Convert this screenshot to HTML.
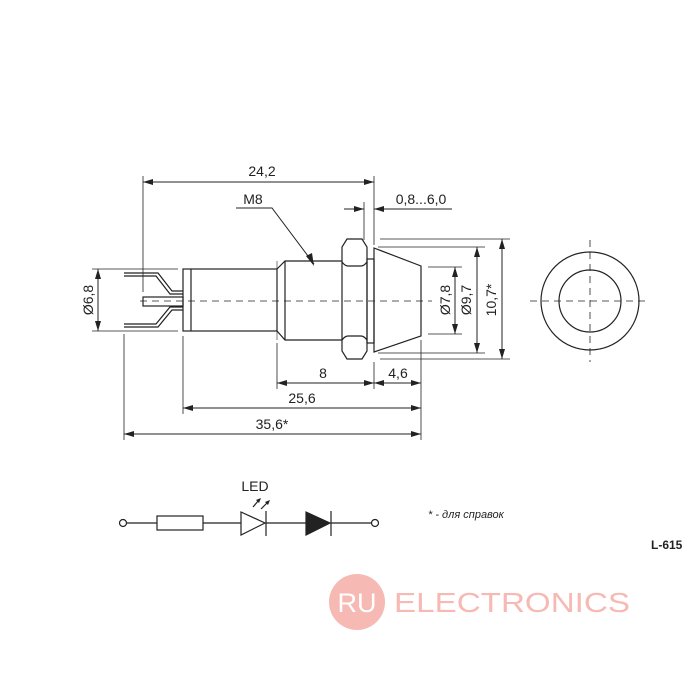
<!DOCTYPE html>
<html><head><style>html,body{margin:0;padding:0;background:#fff}svg{display:block}text{font-family:"Liberation Sans",sans-serif;fill:#222}</style></head><body>
<svg width="700" height="700" viewBox="0 0 700 700" xmlns="http://www.w3.org/2000/svg">
<defs>
<marker id="a" viewBox="0 0 10 6" refX="10" refY="3" markerWidth="10" markerHeight="6" orient="auto-start-reverse" markerUnits="userSpaceOnUse"><path d="M0,0 L10,3 L0,6z" fill="#222"/></marker>
</defs>
<g stroke="#222" stroke-width="1.2" fill="none">
<rect x="183" y="269" width="94" height="62"/>
<line x1="191" y1="269" x2="191" y2="331"/>
<path d="M277,269 L285,261 L342,261 M277,331 L285,340 L342,340 M285,261 L285,340"/>
<line x1="277" y1="261" x2="277" y2="340" stroke-width="0.6"/>
<path d="M347,239 L362,239 L367,247 L367,351 L362,359 L347,359 L342,351 L342,247 Z"/>
<path d="M342,262 Q345,266 348,266 L361,266 Q364,266 367,262 M342,340 Q345,336 348,336 L361,336 Q364,336 367,340"/>
<rect x="367" y="259" width="7" height="84"/>
<path d="M374,248 L421,266 L421,336 L374,352 Z"/>
<path d="M124,273 L158,273 L172,291 L183,291 M124,276 L156,276 L170,294 L183,294"/>
<path d="M124,327 L158,327 L172,310 L183,310 M124,324 L156,324 L170,307 L183,307"/>
<rect x="143" y="297" width="40" height="9"/>
<line x1="140" y1="301" x2="432" y2="301" stroke-dasharray="7,5" stroke-width="0.8"/>
<circle cx="590" cy="301" r="49"/>
<circle cx="590" cy="301" r="31"/>
<line x1="530" y1="301" x2="650" y2="301" stroke-dasharray="7,5" stroke-width="0.8"/>
<line x1="590" y1="240" x2="590" y2="362" stroke-dasharray="7,5" stroke-width="0.8"/>
<g stroke-width="0.8">
<line x1="143" y1="176" x2="143" y2="292"/>
<line x1="374" y1="176" x2="374" y2="245"/>
<line x1="364" y1="202" x2="364" y2="240"/>
<line x1="92" y1="269" x2="178" y2="269"/><line x1="92" y1="331" x2="178" y2="331"/>
<line x1="380" y1="239" x2="510" y2="239"/><line x1="380" y1="359" x2="510" y2="359"/>
<line x1="378" y1="247" x2="485" y2="247"/><line x1="378" y1="353" x2="485" y2="353"/>
<line x1="428" y1="267" x2="462" y2="267"/><line x1="428" y1="334" x2="462" y2="334"/>
<line x1="124" y1="334" x2="124" y2="440"/>
<line x1="183" y1="336" x2="183" y2="414"/>
<line x1="277" y1="343" x2="277" y2="389"/>
<line x1="374" y1="362" x2="374" y2="389"/>
<line x1="421" y1="340" x2="421" y2="440"/>
</g>
<g stroke-width="1">
<line x1="143" y1="182" x2="374" y2="182" marker-start="url(#a)" marker-end="url(#a)"/>
<line x1="344" y1="209" x2="364" y2="209" marker-end="url(#a)"/>
<line x1="398" y1="209" x2="374" y2="209" marker-end="url(#a)"/>
<line x1="374" y1="209" x2="452" y2="209"/>
<line x1="98" y1="269" x2="98" y2="331" marker-start="url(#a)" marker-end="url(#a)"/>
<line x1="455" y1="267" x2="455" y2="334" marker-start="url(#a)" marker-end="url(#a)"/>
<line x1="477" y1="247" x2="477" y2="353" marker-start="url(#a)" marker-end="url(#a)"/>
<line x1="502" y1="239" x2="502" y2="359" marker-start="url(#a)" marker-end="url(#a)"/>
<line x1="277" y1="383" x2="374" y2="383" marker-start="url(#a)" marker-end="url(#a)"/>
<line x1="374" y1="383" x2="421" y2="383" marker-start="url(#a)" marker-end="url(#a)"/>
<line x1="183" y1="408" x2="421" y2="408" marker-start="url(#a)" marker-end="url(#a)"/>
<line x1="124" y1="434" x2="421" y2="434" marker-start="url(#a)" marker-end="url(#a)"/>
<path d="M236,208 L272,208 L314,264"/>
</g>
<path d="M314,266 L306,256 L312,253 Z" fill="#222" stroke="none"/>
<circle cx="123" cy="523" r="3.5"/>
<circle cx="375" cy="523" r="3.5"/>
<line x1="127" y1="523" x2="157" y2="523"/>
<rect x="157" y="516" width="46" height="14"/>
<line x1="203" y1="523" x2="241" y2="523"/>
<path d="M241,512 L265,523 L241,535 Z"/>
<line x1="266" y1="511" x2="266" y2="536"/>
<line x1="266" y1="523" x2="306" y2="523"/>
<path d="M306,512 L330,523 L306,535 Z" fill="#222"/>
<line x1="331" y1="511" x2="331" y2="536"/>
<line x1="331" y1="523" x2="371" y2="523"/>
<line x1="253" y1="507" x2="259" y2="500"/><line x1="261" y1="509" x2="268" y2="502"/>
</g>
<path d="M261,498 L256,500 L259,503Z M270,500 L265,502 L268,505Z" fill="#222"/>
<g font-size="14" text-anchor="middle">
<text x="262" y="176">24,2</text>
<text x="253" y="204">M8</text>
<text x="421" y="204">0,8...6,0</text>
<text x="323" y="378">8</text>
<text x="398" y="378">4,6</text>
<text x="302" y="403">25,6</text>
<text x="272" y="429">35,6*</text>
<text x="255" y="491">LED</text>
<text transform="translate(93,300) rotate(-90)">Ø6,8</text>
<text transform="translate(450,300) rotate(-90)">Ø7,8</text>
<text transform="translate(471,300) rotate(-90)">Ø9,7</text>
<text transform="translate(496,300) rotate(-90)">10,7*</text>
</g>
<text x="428" y="518" font-size="11" font-style="italic">* - для справок</text>
<text x="651" y="549" font-size="12" font-weight="bold">L-615</text>
<circle cx="357" cy="602" r="28" fill="#f6b9b3"/>
<text x="357" y="612" font-size="27" style="fill:#fff" text-anchor="middle">RU</text>
<text x="394" y="612" font-size="28" style="fill:#f6b9b3" textLength="236" lengthAdjust="spacingAndGlyphs">ELECTRONICS</text>
</svg>
</body></html>
